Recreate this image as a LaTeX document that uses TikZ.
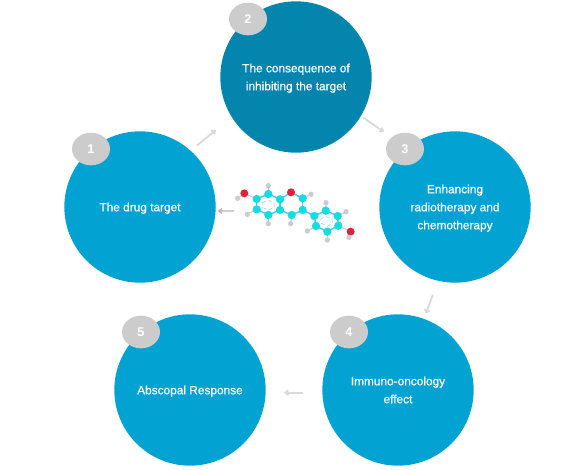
\documentclass[tikz,border=0pt]{standalone}
\usepackage{fontspec}
\setmainfont{Liberation Sans}
\newfontfamily\labelfont[FakeBold=.5]{Liberation Sans}
\usetikzlibrary{arrows.meta,shapes.geometric}
\definecolor{stepblue}{HTML}{02A3D2}
\definecolor{stepdark}{HTML}{0385AE}
\definecolor{badgegray}{HTML}{CCCCCC}
\definecolor{flowgray}{HTML}{DADADA}
\definecolor{carbon}{HTML}{14DDE2}
\definecolor{oxygen}{HTML}{E0223A}
\begin{document}
\begin{tikzpicture}[x=.75pt,y=-.75pt,
    stepcircle/.style={circle,fill=stepblue,minimum size=113.5pt,inner sep=0pt,text depth=0pt,
      text=white,align=center,font=\labelfont\fontsize{8.9}{13.5}\selectfont},
    badge/.style={ellipse,fill=badgegray,minimum width=28.5pt,minimum height=24.5pt,
      inner sep=0pt,text=white,font=\fontsize{9.5}{10}\selectfont\bfseries},
    flow/.style={draw=flowgray,line width=1.4pt,-{Straight Barb[length=2.2pt,width=3.6pt]}}]
  \useasboundingbox (0,0) rectangle (582,470);
  \node[stepcircle] (drug) at (140,207) {The drug target};
  \node[stepcircle,fill=stepdark] (consequence) at (296,77)
    {The consequence of\\inhibiting the target};
  \node[stepcircle] (enhancing) at (455,207)
    {Enhancing\\radiotherapy and\\chemotherapy};
  \node[stepcircle] (immuno) at (398,390) {Immuno-oncology\\effect};
  \node[stepcircle] (abscopal) at (190,390) {Abscopal Response};
  \node[badge] (badge1) at (91,149) {1};
  \node[badge] (badge2) at (248,19) {2};
  \node[badge] (badge3) at (405,149) {3};
  \node[badge] (badge4) at (349,332) {4};
  \node[badge] (badge5) at (141,332) {5};
  \draw[flow,shorten <=6pt,shorten >=15pt] (drug.48) -- (consequence.212);
  \draw[flow,shorten <=1.8pt,shorten >=21pt] (consequence.-31) -- (enhancing.129);
  \draw[flow,shorten <=11pt,shorten >=3.8pt] (enhancing.257) -- (immuno.70);
  \draw[flow,shorten <=14pt,shorten >=13.5pt] (immuno.182) -- (abscopal.-2);
  \coordinate (molecule) at (234,211);
  \draw[flow,line width=1pt,black!30,shorten >=1.5pt] (molecule) -- (drug.-3);
  % molecule
  \begin{scope}[shift={(190,120)},x=.25pt,y=-.25pt]
    \foreach \name/\px/\py in {a/200/237,b/235/222,c/270/238,d/270/270,e/235/285,f/200/268,
        g/338/235,h/338/270,i/305/285,j/373/288,k/407/272,l/443/288,m/445/317,n/412/335,o/378/318}
      \coordinate (\name) at (\px,\py);
    \foreach \name/\px/\py in {oa/163/220,ob/303/217,oc/482/335}
      \coordinate (\name) at (\px,\py);
    \foreach \name/\px/\py in {ha/143/235,hb/235/197,hc/172/283,hd/235/311,he/302/311,hf/363/223,
        hg/408/248,hh/468/275,hi/352/333,hj/412/360,hk/477/352}
      \coordinate (\name) at (\px,\py);
    \foreach \from/\to in {a/oa,oa/ha,b/hb,f/hc,e/hd,i/he,g/hf,k/hg,l/hh,o/hi,n/hj,m/oc,oc/hk}
      \draw[black!20,line width=.8pt] (\from) -- (\to);
    \foreach \from/\to in {a/b,b/c,c/d,d/e,e/f,f/a,c/ob,ob/g,g/h,h/i,i/d,h/j,j/k,k/l,l/m,m/n,n/o,o/j}
      \draw[cyan!70!white,line width=1.1pt] (\from) -- (\to);
    \draw[cyan!40!white,line width=.5pt,densely dashed] (217,248) -- (235,240) -- (253,248) -- (253,262)
      -- (235,270) -- (217,262) -- cycle;
    \draw[cyan!40!white,line width=.5pt,densely dashed] (390,298) -- (408,289) -- (426,298) -- (428,310)
      -- (411,319) -- (394,310) -- cycle;
    \foreach \name in {a,b,c,d,e,f,g,h,i,j,k,l,m,n,o}
      \fill[carbon] (\name) circle (12.5);
    \foreach \name in {oa,ob,oc}
      \fill[oxygen] (\name) circle (12);
    \foreach \name in {ha,hb,hc,hd,he,hf,hg,hh,hi,hj,hk}
      \fill[black!20] (\name) circle (8);
  \end{scope}
\end{tikzpicture}
\end{document}
